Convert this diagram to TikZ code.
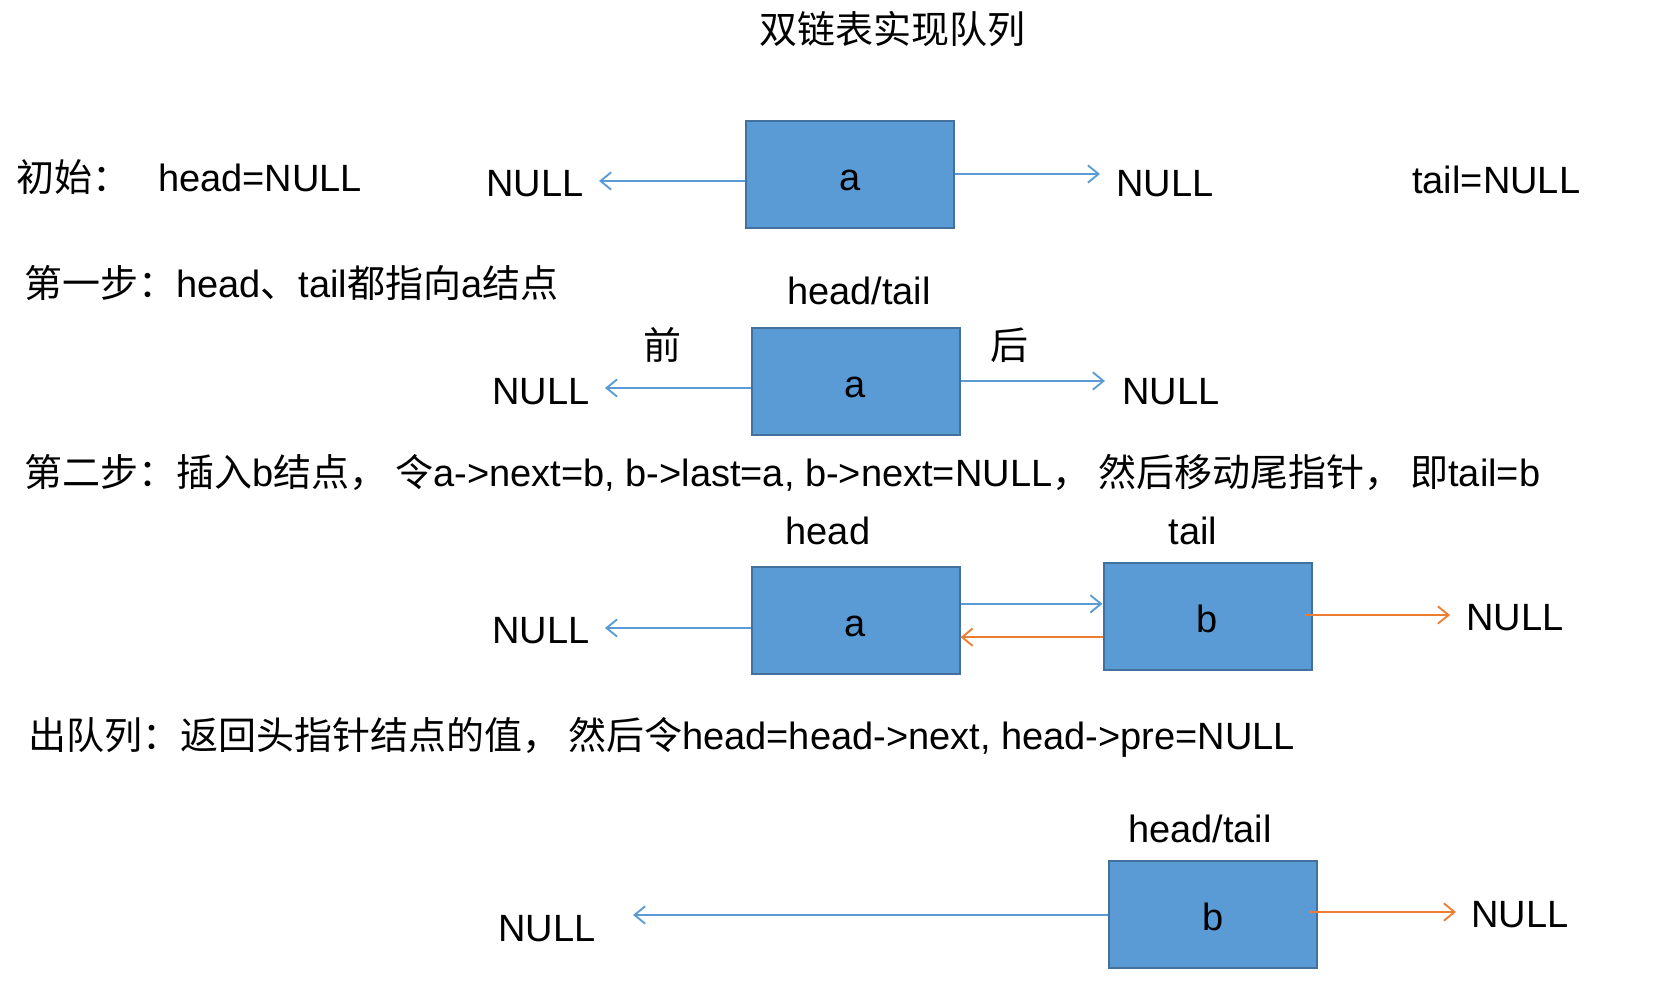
\documentclass[tikz,border=0pt]{standalone}
\usepackage{fontspec}
\setmainfont{Liberation Sans}
\newfontfamily\cjk{Noto Sans CJK SC}
\usetikzlibrary{arrows.meta}

\newcommand{\zh}[1]{{\cjk #1}}

\definecolor{nodeblue}{HTML}{5B9BD5}
\definecolor{nodeedge}{HTML}{41719C}
\definecolor{nextorange}{HTML}{ED7D31}

\tikzset{
  listnode/.style={draw=nodeedge, fill=nodeblue, line width=1.5pt, minimum width=156pt, minimum height=80pt, text height=24pt, text depth=0pt},
  ptr/.style={-{Straight Barb[length=8pt,width=13pt]}, line width=1.4pt},
  blueptr/.style={ptr, draw=nodeblue},
  orangeptr/.style={ptr, draw=nextorange},
  txt/.style={inner sep=0pt, anchor=base},
  lefttxt/.style={inner sep=0pt, anchor=base west},
}

\begin{document}
\begin{tikzpicture}[x=0.75pt,y=0.75pt,yscale=-1,font=\fontsize{28.5}{34}\selectfont]
        \useasboundingbox (0,0) rectangle (1654,1006);

        % Title
        \node[txt] (title) at (892,44) {\zh{双链表实现队列}};

        % Initial state
        \node[lefttxt] (init) at (16,191) {\zh{初始：}};
        \node[lefttxt] (headnull) at (158,191) {head=NULL};
        \node[lefttxt] (tailnull) at (1412,193) {tail=NULL};
        \node[listnode] (a1) at (850,174.5) {a};
        \node[txt] (null1l) at (535,196) {NULL};
        \node[txt] (null1r) at (1165,196) {NULL};
        \coordinate (p1l) at (599,181);
        \coordinate (p1r) at (1100,174);
        \draw[blueptr] (a1.west |- p1l) -- (p1l);
        \draw[blueptr] (a1.east |- p1r) -- (p1r);

        % Step 1
        \node[lefttxt] (step1) at (24,297) {\zh{第一步：}head\zh{、}tail\zh{都指向}a\zh{结点}};
        \node[txt] (ht2) at (859,304) {head/tail};
        \node[listnode] (a2) at (855.5,381.5) {a};
        \node[txt] (prev2) at (662,359) {\zh{前}};
        \node[txt] (next2) at (1009,359) {\zh{后}};
        \node[txt] (null2l) at (541,404) {NULL};
        \node[txt] (null2r) at (1171,404) {NULL};
        \coordinate (p2l) at (605,388);
        \coordinate (p2r) at (1105,381);
        \draw[blueptr] (a2.west |- p2l) -- (p2l);
        \draw[blueptr] (a2.east |- p2r) -- (p2r);

        % Step 2
        \node[lefttxt] (step2) at (24,486) {\zh{第二步：插入}b\zh{结点，}\hspace{6pt}\zh{令}a->next=b, b->last=a, b->next=NULL\zh{，}\hspace{6pt}\zh{然后移动尾指针，}\hspace{6pt}\zh{即}tail=b};
        \node[txt] (head3) at (828,544) {head};
        \node[txt] (tail3) at (1193,544) {tail};
        \node[listnode] (a3) at (855.5,620.5) {a};
        \node[listnode] (b3) at (1207.5,616.5) {b};
        \node[txt] (null3l) at (541,643) {NULL};
        \node[txt] (null3r) at (1515,630) {NULL};
        \coordinate (p3l) at (605,628);
        \coordinate (p3r) at (1450,615);
        \draw[blueptr] (a3.west |- p3l) -- (p3l);
        \draw[blueptr] ([yshift=-12.5]a3.east) -- ([yshift=-12.5]a3.east -| b3.west);
        \draw[orangeptr] ([yshift=12.5]a3.east -| b3.west) -- ([yshift=12.5]a3.east);
        \draw[orangeptr, shorten <=-6pt] (b3.east |- p3r) -- (p3r);

        % Dequeue
        \node[lefttxt] (deq) at (28,749) {\zh{出队列：返回头指针结点的值，}\hspace{6pt}\zh{然后令}head=head->next, head->pre=NULL};
        \node[txt] (ht4) at (1200,842) {head/tail};
        \node[listnode] (b4) at (1213,914.5) {b};
        \node[txt] (null4l) at (547,941) {NULL};
        \node[txt] (null4r) at (1520,927) {NULL};
        \coordinate (p4l) at (633,915);
        \coordinate (p4r) at (1456,912);
        \draw[blueptr] (b4.west |- p4l) -- (p4l);
        \draw[orangeptr, shorten <=-6pt] (b4.east |- p4r) -- (p4r);

\end{tikzpicture}
\end{document}
